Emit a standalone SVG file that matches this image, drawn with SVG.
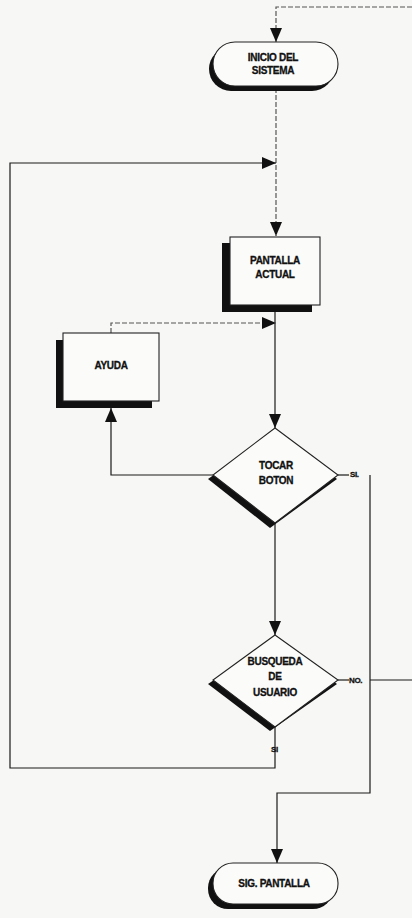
<svg xmlns="http://www.w3.org/2000/svg" width="412" height="918" viewBox="0 0 412 918">
  <style>
    .bg { fill: #f7f7f5; }
    .shadow { fill: #111; }
    .shape { fill: #fbfbfa; stroke: #222; stroke-width: 1.1; }
    .label { font-family: "Liberation Sans", Arial, sans-serif; font-weight: bold; font-size: 10px; fill: #111; stroke: #111; stroke-width: 0.3; text-anchor: middle; letter-spacing: -0.3px; }
    .tag { font-family: "Liberation Sans", Arial, sans-serif; font-weight: bold; font-size: 8px; fill: #111; stroke: #111; stroke-width: 0.3; letter-spacing: -0.4px; }
    .wire { fill: none; stroke: #1a1a1a; stroke-width: 1.2; }
    .wire.dash { stroke: #555; stroke-dasharray: 5 2; }
  </style>
  <defs>
    <marker id="arrowBig" viewBox="0 0 14 12" refX="14" refY="6" markerWidth="14" markerHeight="12" markerUnits="userSpaceOnUse" orient="auto">
      <path d="M0,0 L14,6 L0,12 Z" fill="#111"/>
    </marker>
  </defs>

  <rect class="bg" x="0" y="0" width="412" height="918"/>

  <!-- connectors -->
  <g id="connectors">
    <!-- off-page return into the start terminal -->
    <path class="wire dash" d="M412,7 H276 V42" marker-end="url(#arrowBig)"/>
    <!-- start to current screen -->
    <path class="wire dash" d="M276,88 V236" marker-end="url(#arrowBig)"/>
    <!-- loop back from user search (SI) -->
    <path class="wire" d="M275,727 V768 H10 V163 H276" marker-end="url(#arrowBig)"/>
    <!-- help returns to current screen -->
    <path class="wire dash" d="M111,333 V323 H276" marker-end="url(#arrowBig)"/>
    <!-- current screen to touch button -->
    <path class="wire" d="M275,305 V428" marker-end="url(#arrowBig)"/>
    <!-- touch button to help -->
    <path class="wire" d="M213,475 H111 V408" marker-end="url(#arrowBig)"/>
    <!-- touch button SI branch to next screen -->
    <path class="wire" d="M338,475 H349"/>
    <path class="wire" d="M370,475 V793 H277 V863" marker-end="url(#arrowBig)"/>
    <!-- touch button to user search -->
    <path class="wire" d="M275,523 V635" marker-end="url(#arrowBig)"/>
    <!-- user search NO branch leaves the page -->
    <path class="wire" d="M338,680 H349"/>
    <path class="wire" d="M370,680 H412"/>
    <text class="tag" x="350" y="477">SI.</text>
    <text class="tag" x="349" y="683">NO.</text>
    <text class="tag" x="271" y="752" font-size="7px">SI</text>
  </g>

  <!-- start terminal -->
  <g id="inicio">
    <rect class="shadow" x="209" y="47" width="125" height="44" rx="22"/>
    <rect class="shape" x="213" y="42" width="125" height="44" rx="22"/>
    <text class="label" x="273" y="61">INICIO DEL</text>
    <text class="label" x="273" y="74">SISTEMA</text>
  </g>

  <!-- current screen -->
  <g id="pantalla">
    <rect class="shadow" x="222" y="243" width="90" height="69"/>
    <rect class="shape" x="230" y="237" width="90" height="68"/>
    <text class="label" x="275" y="264">PANTALLA</text>
    <text class="label" x="275" y="278">ACTUAL</text>
  </g>

  <!-- help -->
  <g id="ayuda">
    <rect class="shadow" x="56" y="340" width="96" height="68"/>
    <rect class="shape" x="63" y="333" width="96" height="68"/>
    <text class="label" x="111" y="369">AYUDA</text>
  </g>

  <!-- decision: touch button -->
  <g id="tocar">
    <polygon class="shadow" points="275,432 208,479 270,528 337,479"/>
    <polygon class="shape" points="275,428 338,475 275,523 213,475"/>
    <text class="label" x="276" y="469">TOCAR</text>
    <text class="label" x="276" y="484">BOTON</text>
  </g>

  <!-- decision: user search -->
  <g id="busqueda">
    <polygon class="shadow" points="275,639 208,684 270,731 337,684"/>
    <polygon class="shape" points="275,635 338,680 275,727 213,680"/>
    <text class="label" x="275" y="665">BUSQUEDA</text>
    <text class="label" x="275" y="680">DE</text>
    <text class="label" x="275" y="696">USUARIO</text>
  </g>

  <!-- next screen terminal -->
  <g id="sig-pantalla">
    <rect class="shadow" x="208" y="868" width="125" height="41" rx="20"/>
    <rect class="shape" x="213" y="863" width="125" height="41" rx="20"/>
    <text class="label" x="274" y="887">SIG. PANTALLA</text>
  </g>
</svg>
